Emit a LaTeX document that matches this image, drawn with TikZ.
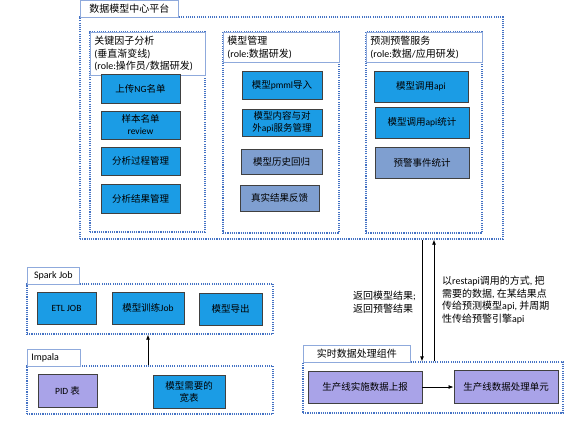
\documentclass[tikz,border=0pt]{standalone}
\usepackage{fontspec}
\setmainfont{Carlito}
\newfontfamily\cjk{Noto Sans CJK SC}
% switch to the CJK font for Han characters
\XeTeXinterchartokenstate=1
\newXeTeXintercharclass\hanclass
\count255="4E00
\loop\ifnum\count255<"A000
  \XeTeXcharclass\count255=\hanclass
  \advance\count255 by 1
\repeat
\XeTeXinterchartoks 0 \hanclass = {\cjk}
\XeTeXinterchartoks 4095 \hanclass = {\cjk}
\XeTeXinterchartoks \hanclass 0 = {\rmfamily}
\XeTeXinterchartoks \hanclass 4095 = {\rmfamily}
\usepackage{tikz}
\usetikzlibrary{positioning}
\usetikzlibrary{arrows.meta}
\tikzset{>={Latex[width=4pt,length=5pt]}}
\definecolor{boxblue}{HTML}{1B9CE5}
\definecolor{steelblue}{HTML}{7F9FD0}
\definecolor{lilac}{HTML}{A9A3E8}
\definecolor{dotblue}{HTML}{4472C4}
\definecolor{titleblue}{HTML}{8FAADC}

\begin{document}
\begin{tikzpicture}[x=1pt, y=-1pt,
    box/.style={rectangle, draw=black!75, line width=0.9pt, align=center, inner sep=1pt, font=\fontsize{9.5}{12}\selectfont},
    bluebox/.style={box, fill=boxblue},
    steelbox/.style={box, fill=steelblue},
    lilacbox/.style={box, fill=lilac},
    group/.style={rectangle, draw=dotblue, line width=1.3pt, dash pattern=on 1.1pt off 1.1pt, inner sep=0pt},
    titlebox/.style={rectangle, draw=titleblue, fill=white, line width=0.8pt, anchor=north west, align=left, inner xsep=4pt, inner ysep=4pt, font=\fontsize{10}{12.5}\selectfont},
    note/.style={anchor=north west, align=left, inner sep=0pt, font=\fontsize{10}{12.5}\selectfont}]
    \useasboundingbox (0,0) rectangle (577,420);

    %Groups
    \node[group, minimum width=423, minimum height=222](platform) at (291.5,128){};
    \node[group, minimum width=115, minimum height=200](factor) at (147.5,132){};
    \node[group, minimum width=116, minimum height=201](model) at (281,132.5){};
    \node[group, minimum width=116, minimum height=201](predict) at (424,132.5){};
    \node[group, minimum width=246, minimum height=50](spark) at (150,309){};
    \node[group, minimum width=246, minimum height=48](impala) at (150,390){};
    \node[group, minimum width=260, minimum height=51](realtime) at (433,387.5){};

    %Titles
    \node[titlebox, inner ysep=3pt, minimum width=98, minimum height=17](platform_title) at (80,0){数据模型中心平台};
    \node[titlebox, text width=107](factor_title) at (90,32){关键因子分析\\(垂直渐变线)\\(role:操作员/数据研发)};
    \node[titlebox, text width=108](model_title) at (223,32){模型管理\\(role:数据研发)};
    \node[titlebox, text width=108](predict_title) at (366,32){预测预警服务\\(role:数据/应用研发)};
    \node[titlebox, inner ysep=3pt, minimum width=52, minimum height=17](spark_title) at (27,267){Spark Job};
    \node[titlebox, inner ysep=3pt, text width=45, minimum height=17](impala_title) at (27,349){Impala};
    \node[titlebox, inner ysep=3pt, minimum width=107, minimum height=17](realtime_title) at (303,345){实时数据处理组件};

    %Nodes
    \node[bluebox, minimum width=79, minimum height=29](upload) at (140.5,88.5){上传NG名单};
    \node[bluebox, minimum width=79, minimum height=28](review) at (140.5,125){样本名单\\review};
    \node[bluebox, minimum width=79, minimum height=28](process) at (140.5,161){分析过程管理};
    \node[bluebox, minimum width=79, minimum height=29](result) at (140.5,198.5){分析结果管理};
    \node[bluebox, minimum width=80, minimum height=28](pmml) at (282,85){模型pmml导入};
    \node[bluebox, minimum width=80, minimum height=27](content) at (282,122.5){模型内容与对\\外api服务管理};
    \node[steelbox, minimum width=81, minimum height=25](history) at (281.5,161.5){模型历史回归};
    \node[steelbox, minimum width=79, minimum height=26](feedback) at (279.5,198){真实结果反馈};
    \node[bluebox, minimum width=94, minimum height=31](call) at (421,86.5){模型调用api};
    \node[bluebox, minimum width=94, minimum height=31](callstat) at (422,122.5){模型调用api统计};
    \node[steelbox, minimum width=94, minimum height=31](alarm) at (422,162.5){预警事件统计};
    \node[bluebox, minimum width=59, minimum height=32](etl) at (66.5,308){ETL JOB};
    \node[bluebox, minimum width=72, minimum height=32](train) at (148,308){模型训练Job};
    \node[bluebox, minimum width=63, minimum height=32](export) at (230.5,309){模型导出};
    \node[lilacbox, minimum width=59, minimum height=33](pid) at (67.5,390.5){PID 表};
    \node[bluebox, minimum width=72, minimum height=33](wide) at (189,391.5){模型需要的\\宽表};
    \node[lilacbox, minimum width=114, minimum height=32](report) at (365,387){生产线实施数据上报};
    \node[lilacbox, minimum width=104, minimum height=33](unit) at (506,387){生产线数据处理单元};
    \node[note](back_text) at (353,291){返回模型结果;\\返回预警结果};
    \node[note](rest_text) at (442,276){以restapi调用的方式, 把\\需要的数据, 在某结果点\\传给预测模型api, 并周期\\性传给预警引擎api};
    \coordinate (down_x) at (422,0);
    \coordinate (up_x) at (434,0);

    %Lines
    \draw[->, thick] (impala.north -| train.south) -- (spark.south -| train.south);
    \draw[->, thick] (platform.south -| down_x) -- (realtime.north -| down_x);
    \draw[->, thick] (realtime.north -| up_x) -- (platform.south -| up_x);
    \draw[->, thick] (report.east) -- (unit.west);

\end{tikzpicture}
\end{document}
